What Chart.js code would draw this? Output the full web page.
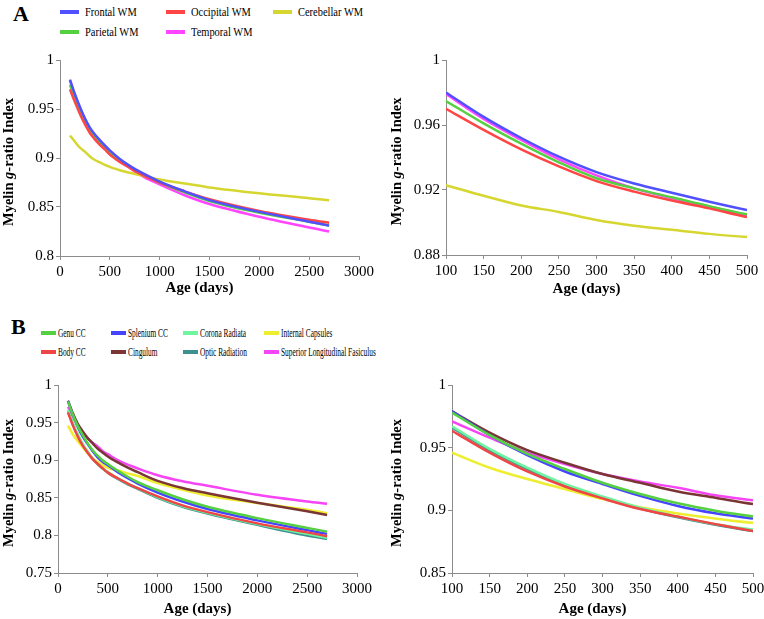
<!DOCTYPE html>
<html>
<head>
<meta charset="utf-8">
<script src="https://cdn.jsdelivr.net/npm/chart.js@4"></script>
<style>
  body { margin: 0; background: #fff; }
  #page { position: relative; width: 764px; height: 619px; overflow: hidden; font-family: "Liberation Serif", serif; color: #000; }
  canvas { position: absolute; }
  .letter { position: absolute; font-weight: bold; font-size: 22px; line-height: 22px; }
  .leg { position: absolute; height: 14px; white-space: nowrap; }
  .leg .sw { position: absolute; left: 0; top: 5px; height: 4px; }
  .leg .tx { position: absolute; top: 0; line-height: 14px; transform-origin: 0 50%; }
</style>
</head>
<body>
<div id="page">
  <div class="letter" style="left:13px; top:3px;">A</div>
  <div class="letter" style="left:11px; top:316px;">B</div>
  <canvas id="aLeft" width="380" height="252" style="left:0; top:50px;"></canvas>
  <canvas id="aRight" width="384" height="252" style="left:380px; top:50px;"></canvas>
  <canvas id="bLeft" width="380" height="244" style="left:0; top:375px;"></canvas>
  <canvas id="bRight" width="384" height="244" style="left:380px; top:375px;"></canvas>
</div>
<script>
// ages (days) at which the curves were read
const ages = [100, 150, 200, 250, 300, 350, 400, 450, 500, 600, 700, 800, 1000, 1250, 1500, 2000, 2500, 2700];

// panel A - white matter regions
const namesA = ["Frontal WM", "Occipital WM", "Cerebellar WM", "Parietal WM", "Temporal WM"];
const colorsA = ["#5050ff", "#ff4545", "#d6d630", "#55d040", "#ff45ff"];
const frontalWM    = [0.980, 0.965, 0.952, 0.9405, 0.931, 0.924, 0.9183, 0.9128, 0.9077, 0.899, 0.892, 0.886, 0.876, 0.866, 0.857, 0.845, 0.835, 0.831];
const occipitalWM  = [0.970, 0.957, 0.945, 0.9345, 0.9255, 0.919, 0.9135, 0.9087, 0.9034, 0.896, 0.890, 0.884, 0.875, 0.866, 0.858, 0.846, 0.837, 0.834];
const cerebellarWM = [0.923, 0.9165, 0.9105, 0.9065, 0.9015, 0.898, 0.8955, 0.893, 0.891, 0.8875, 0.885, 0.8825, 0.878, 0.874, 0.870, 0.864, 0.859, 0.857];
const parietalWM   = [0.9748, 0.961, 0.9485, 0.937, 0.9272, 0.921, 0.9155, 0.910, 0.905, 0.8975, 0.891, 0.885, 0.875, 0.865, 0.856, 0.844, 0.835, 0.831];
const temporalWM   = [0.979, 0.9637, 0.9508, 0.9389, 0.929, 0.921, 0.915, 0.9097, 0.9045, 0.897, 0.890, 0.883, 0.873, 0.862, 0.853, 0.840, 0.829, 0.825];

// panel B - tracts
const namesB = ["Genu CC", "Body CC", "Splenium CC", "Cingulum", "Corona Radiata", "Optic Radiation", "Internal Capsules", "Superior Longitudinal Fasiculus"];
const colorsB = ["#55d040", "#f04545", "#4545ff", "#7a3535", "#6ff5a0", "#3d9090", "#eeee30", "#f545f5"];
const genuCC     = [0.978, 0.960, 0.945, 0.933, 0.922, 0.913, 0.9056, 0.8997, 0.895, 0.886, 0.878, 0.871, 0.860, 0.848, 0.838, 0.823, 0.810, 0.805];
const bodyCC     = [0.9635, 0.946, 0.931, 0.919, 0.9095, 0.901, 0.895, 0.889, 0.8835, 0.876, 0.869, 0.863, 0.852, 0.840, 0.831, 0.816, 0.804, 0.799];
const spleniumCC = [0.979, 0.960, 0.944, 0.931, 0.921, 0.9115, 0.9035, 0.8976, 0.8934, 0.884, 0.876, 0.869, 0.857, 0.845, 0.835, 0.820, 0.807, 0.802];
const cingulum   = [0.979, 0.962, 0.948, 0.938, 0.929, 0.922, 0.915, 0.910, 0.905, 0.897, 0.890, 0.884, 0.8725, 0.863, 0.856, 0.8435, 0.832, 0.827];
const coronaRad  = [0.967, 0.949, 0.934, 0.921, 0.911, 0.902, 0.895, 0.889, 0.8845, 0.876, 0.869, 0.863, 0.851, 0.839, 0.830, 0.815, 0.802, 0.797];
const opticRad   = [0.966, 0.948, 0.933, 0.920, 0.9105, 0.9015, 0.8945, 0.8885, 0.8835, 0.875, 0.868, 0.862, 0.850, 0.838, 0.829, 0.814, 0.800, 0.7955];
const internalCap = [0.946, 0.934, 0.925, 0.917, 0.909, 0.9025, 0.8975, 0.8935, 0.890, 0.8865, 0.8825, 0.879, 0.8695, 0.8605, 0.853, 0.843, 0.834, 0.8295];
const slf        = [0.971, 0.958, 0.946, 0.937, 0.929, 0.923, 0.918, 0.912, 0.908, 0.900, 0.894, 0.889, 0.880, 0.872, 0.866, 0.854, 0.845, 0.842];

const seriesA = [frontalWM, occipitalWM, cerebellarWM, parietalWM, temporalWM];
const seriesB = [genuCC, bodyCC, spleniumCC, cingulum, coronaRad, opticRad, internalCap, slf];

const xTitle = "Age (days)";
const yTitleParts = [{ text: "Myelin ", style: "" }, { text: "g", style: "italic " }, { text: "-ratio Index", style: "" }];

const serif = '"Liberation Serif", "Times New Roman", serif';
Chart.defaults.font.family = serif;
Chart.defaults.color = "#000";

// legends (html)
const legendA = [[60, 12], [166, 12], [273, 12], [60, 32], [166, 32]];
const legendB = [[41, 333], [41, 352], [111, 333], [111, 352], [183, 333], [183, 352], [264, 333], [264, 352]];

function addLegend(names, colors, spots, swW, txOff, fontPx, squeeze) {
    const page = document.getElementById("page");
    for (let i = 0; i < names.length; i++) {
        const d = document.createElement("div");
        d.className = "leg";
        d.style.left = spots[i][0] + "px";
        d.style.top = (spots[i][1] - 7) + "px";
        d.innerHTML = '<span class="sw" style="width:' + swW + 'px;background:' + colors[i] + '"></span>' +
            '<span class="tx" style="left:' + txOff + 'px;font-size:' + fontPx + 'px;transform:scaleX(' + squeeze + ')">' + names[i] + '</span>';
        page.appendChild(d);
    }
}
addLegend(namesA, colorsA, legendA, 19, 25, 12, 0.87);
addLegend(namesB, colorsB, legendB, 15, 17, 11.5, 0.64);

const axisTitles = {
    id: "axisTitles",
    afterDraw(chart, args, o) {
        const { ctx, chartArea: a } = chart;
        ctx.save();
        ctx.fillStyle = "#000";
        ctx.textBaseline = "middle";
        ctx.textAlign = "left";
        ctx.font = "bold 15px " + serif;
        const w = ctx.measureText(xTitle).width;
        ctx.fillText(xTitle, (a.left + a.right) / 2 - 10 - w / 2, o.xTitleY);

        ctx.translate(o.yTitleX, (a.top + a.bottom) / 2 + 4);
        ctx.rotate(-Math.PI / 2);
        let total = 0;
        yTitleParts.forEach(p => {
            ctx.font = p.style + "bold 14.5px " + serif;
            total += ctx.measureText(p.text).width;
        });
        let x = -total / 2;
        yTitleParts.forEach(p => {
            ctx.font = p.style + "bold 14.5px " + serif;
            ctx.fillText(p.text, x, 0);
            x += ctx.measureText(p.text).width;
        });
        ctx.restore();
    }
};

const fmtY = v => String(Math.round(v * 100) / 100);
const fmtX = v => String(v);

const draw_panel = (id, names, colors, series, p) => {
    const datasets = [];
    for (let i = 0; i < names.length; i++) {
        datasets.push({
            label: names[i],
            data: ages.map((a, j) => ({ x: a, y: series[i][j] })),
            borderColor: colors[i],
            backgroundColor: colors[i],
            borderWidth: 2.5,
            pointRadius: 0,
            fill: false,
            cubicInterpolationMode: "monotone"
        });
    }
    new Chart(document.getElementById(id), {
        type: "line",
        data: { datasets: datasets },
        plugins: [axisTitles],
        options: {
            responsive: false,
            animation: false,
            devicePixelRatio: 1,
            layout: { padding: { top: 10, left: 0, right: p.padRight, bottom: 0 } },
            plugins: {
                legend: { display: false },
                tooltip: { enabled: false },
                axisTitles: { xTitleY: p.xTitleY, yTitleX: p.yTitleX }
            },
            scales: {
                x: {
                    type: "linear",
                    min: p.xMin, max: p.xMax,
                    border: { display: true, color: "#8c8c8c", width: 1 },
                    grid: { display: true, drawOnChartArea: false, drawTicks: true, tickLength: 4, color: "#8c8c8c" },
                    ticks: { stepSize: p.xStep, maxRotation: 0, autoSkip: false, padding: 3, font: { family: serif, size: 15 }, color: "#000", callback: fmtX },
                    afterFit: s => { s.height = p.xHeight; s.paddingLeft = 0; s.paddingRight = 0; }
                },
                y: {
                    min: p.yMin, max: p.yMax,
                    border: { display: true, color: "#8c8c8c", width: 1 },
                    grid: { display: true, drawOnChartArea: false, drawTicks: true, tickLength: 4, color: "#8c8c8c" },
                    ticks: { stepSize: p.yStep, padding: 2, font: { family: serif, size: 15 }, color: "#000", callback: fmtY },
                    afterFit: s => { s.width = p.yWidth; s.paddingTop = 0; s.paddingBottom = 0; }
                }
            }
        }
    });
};

draw_panel("aLeft", namesA, colorsA, seriesA,
    { xMin: 0, xMax: 3000, xStep: 500, yMin: 0.8, yMax: 1, yStep: 0.05, yWidth: 60, xHeight: 46, padRight: 21, xTitleY: 238, yTitleX: 9 });
draw_panel("aRight", namesA, colorsA, seriesA,
    { xMin: 100, xMax: 500, xStep: 50, yMin: 0.88, yMax: 1, yStep: 0.04, yWidth: 66, xHeight: 47, padRight: 17, xTitleY: 239, yTitleX: 17 });
draw_panel("bLeft", namesB, colorsB, seriesB,
    { xMin: 0, xMax: 3000, xStep: 500, yMin: 0.75, yMax: 1, yStep: 0.05, yWidth: 58, xHeight: 46, padRight: 23, xTitleY: 234, yTitleX: 9 });
draw_panel("bRight", namesB, colorsB, seriesB,
    { xMin: 100, xMax: 500, xStep: 50, yMin: 0.85, yMax: 1, yStep: 0.05, yWidth: 72, xHeight: 46, padRight: 11, xTitleY: 234, yTitleX: 17 });
</script>
</body>
</html>
